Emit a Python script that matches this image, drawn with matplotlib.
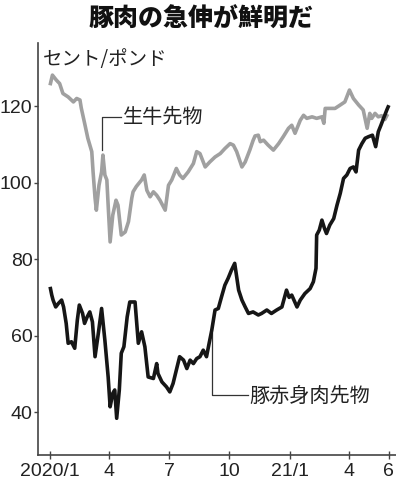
import datetime as dt
import matplotlib
matplotlib.use("Agg")
import matplotlib.pyplot as plt
from matplotlib import font_manager as fm

# ---------------- data (day offsets from 2020-01-01, cents/pound) ----------------
cattle_days = [1, 4, 10, 15, 20, 28, 36, 41, 46, 48, 53, 58, 64, 66, 69, 71, 75, 79, 81, 84,
               87, 89, 92, 96, 101, 104, 109, 115, 120, 125, 127, 132, 140, 144, 148, 153, 158,
               163, 168, 176, 181, 186, 193, 198, 203, 211, 219, 224, 229, 237, 244, 252, 260,
               267, 275, 280, 285, 293, 298, 305, 310, 313, 318, 321, 326, 333, 341, 349, 356,
               364, 369, 374, 382, 387, 392, 400, 407, 415, 418, 420, 427, 435, 443, 450, 457,
               463, 471, 478, 484, 488, 491, 496, 501, 506, 511, 514]
cattle_vals = [125.9, 128.1, 126.8, 125.9, 123.3, 122.4, 121.1, 122.0, 121.6, 119.5, 115.6, 111.6,
               108.1, 102.8, 96.0, 92.8, 99.3, 102.8, 107.2, 102.0, 100.7, 94.1, 84.5, 91.5, 95.4,
               94.1, 86.3, 87.1, 89.8, 95.9, 97.6, 99.0, 100.7, 102.0, 98.0, 96.3, 97.6, 96.7,
               95.4, 92.8, 99.3, 100.7, 103.7, 102.0, 101.1, 102.8, 105.0, 108.1, 107.6, 104.1,
               105.4, 106.7, 107.6, 108.9, 110.2, 109.8, 108.1, 104.1, 105.4, 108.5, 111.0, 112.2,
               112.4, 110.7, 111.1, 109.8, 108.5, 110.2, 112.0, 114.2, 115.0, 112.9, 116.3, 117.6,
               116.8, 117.2, 116.8, 117.2, 115.5, 119.4, 119.4, 119.4, 120.3, 121.1, 124.2, 122.0,
               120.3, 119.0, 114.2, 118.1, 116.8, 118.1, 117.2, 117.5, 116.5, 117.5]

hog_days = [1, 3, 5, 9, 13, 18, 21, 25, 28, 33, 38, 42, 45, 50, 53, 57, 61, 65, 69, 74, 79, 84,
            89, 92, 96, 99, 102, 106, 109, 113, 118, 122, 130, 135, 140, 145, 150, 158, 163, 165,
            171, 178, 183, 188, 193, 198, 204, 209, 214, 219, 224, 229, 234, 239, 243, 247, 252,
            257, 262, 267, 272, 277, 282, 288, 293, 298, 303, 310, 318, 323, 331, 338, 346, 354,
            361, 365, 369, 377, 382, 389, 397, 402, 406, 407, 411, 415, 419, 422, 427, 433, 438,
            443, 448, 453, 458, 463, 467, 471, 476, 481, 486, 492, 497, 501, 505, 509, 514, 516]
hog_vals = [72.3, 70.6, 69.3, 67.5, 68.4, 69.3, 67.5, 63.2, 58.0, 58.4, 56.7, 64.1, 68.0, 65.8,
            63.2, 64.9, 66.2, 63.6, 54.5, 60.6, 67.1, 58.8, 49.2, 41.4, 44.9, 45.8, 38.4, 45.8,
            55.4, 57.1, 64.9, 68.8, 68.8, 58.0, 61.0, 57.1, 49.2, 48.8, 52.7, 50.1, 47.9, 46.6,
            45.3, 47.5, 51.0, 54.5, 53.6, 51.4, 53.6, 52.7, 54.0, 54.5, 56.2, 54.5, 58.0, 61.4,
            66.7, 67.1, 70.2, 73.2, 75.0, 77.1, 78.9, 71.9, 69.3, 67.5, 65.8, 66.2, 65.4, 65.8,
            66.7, 65.8, 66.7, 67.5, 71.9, 70.0, 70.6, 67.5, 69.3, 71.0, 72.3, 74.1, 77.6, 86.3,
            87.6, 90.2, 88.0, 86.7, 88.9, 90.6, 94.1, 97.2, 101.1, 102.0, 103.7, 104.1, 102.8,
            108.5, 110.2, 111.6, 112.0, 112.4, 109.4, 113.3, 115.0, 116.8, 119.0, 119.8]

title = "豚肉の急伸が鮮明だ"
unit_label = "セント/ポンド"
cattle_label = "生牛先物"
hog_label = "豚赤身肉先物"
xtick_dates = ["2020-01-01", "2020-04-01", "2020-07-01", "2020-10-01",
               "2021-01-01", "2021-04-01", "2021-06-01"]
xtick_labels = ["2020/1", "4", "7", "10", "21/1", "4", "6"]
yticks = [40, 60, 80, 100, 120]

# ---------------- helpers ----------------
base = dt.datetime(2020, 1, 1)
def to_date(d):
    return base + dt.timedelta(days=d)

names = {f.name for f in fm.fontManager.ttflist}
tick_font = "Liberation Sans Narrow" if "Liberation Sans Narrow" in names else "Liberation Sans"
jp = ["Noto Sans CJK JP", "DejaVu Sans"]

fig = plt.figure(figsize=(3.96, 4.87), dpi=100)
ax = fig.add_axes([38 / 396, 32 / 487, 1 - 38 / 396, (455 - 43) / 487])

ax.plot([to_date(d) for d in cattle_days], cattle_vals, color="#a0a0a0", lw=2.6,
        solid_joinstyle="round", zorder=3)
ax.plot([to_date(d) for d in hog_days], hog_vals, color="#161616", lw=2.6,
        solid_joinstyle="round", zorder=4)

# leader lines + labels
ax.plot([to_date(79), to_date(79), to_date(108)], [108.5, 117.2, 117.2],
        color="#333333", lw=0.9, zorder=2)
ax.text(to_date(111), 117.0, cattle_label, fontsize=14.5, family=jp, va="center", ha="left",
        color="#222222")
ax.plot([to_date(247), to_date(247), to_date(303)], [60.7, 44.4, 44.4],
        color="#333333", lw=0.9, zorder=2)
ax.text(to_date(305), 44.2, hog_label, fontsize=14.5, family=jp, va="center", ha="left",
        color="#222222")

ax.set_xlim(to_date(-18), to_date(528))
ax.set_ylim(28.8, 136.5)

ax.set_xticks([dt.datetime.strptime(s, "%Y-%m-%d") for s in xtick_dates])
ax.set_xticklabels(xtick_labels)
ax.set_yticks(yticks)
ax.set_yticklabels([str(v) for v in yticks])

for lab in ax.get_xticklabels() + ax.get_yticklabels():
    lab.set_fontfamily(tick_font)
    lab.set_fontsize(14)
    lab.set_color("#222222")

ax.tick_params(axis="x", direction="inout", length=6, width=1, color="#444444", pad=3)
ax.tick_params(axis="y", direction="out", length=3, width=1, color="#444444", pad=1)

for s in ["top", "right"]:
    ax.spines[s].set_visible(False)
for s in ["left", "bottom"]:
    ax.spines[s].set_color("#444444")
    ax.spines[s].set_linewidth(1.2)

fig.text(201 / 396, 1 - 19 / 487, title, fontsize=18, fontweight="heavy", family=jp,
         ha="center", va="center", color="#111111")
fig.text(43 / 396, 1 - 60 / 487, unit_label, fontsize=14, family=jp,
         ha="left", va="center", color="#222222")

fig.savefig("out.png", dpi=100)
